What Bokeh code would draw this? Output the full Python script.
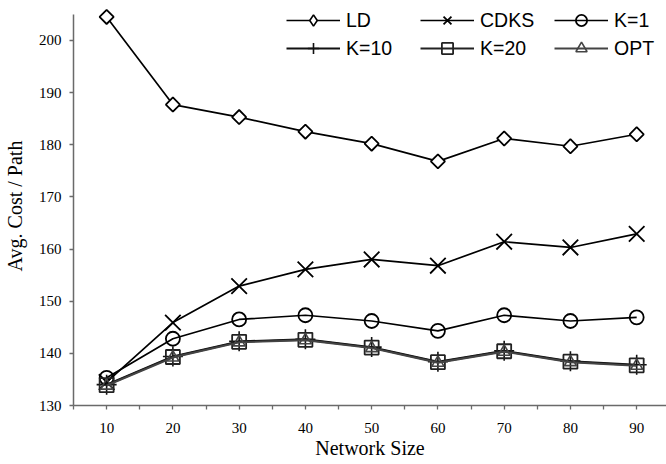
from bokeh.plotting import figure
from bokeh.models import FixedTicker, Legend, LegendItem, Range1d, ColumnDataSource
from bokeh.embed import file_html
from bokeh.resources import INLINE
import numpy as np

network_size = [10, 20, 30, 40, 50, 60, 70, 80, 90]
ld = [204.5, 187.7, 185.3, 182.5, 180.2, 176.8, 181.2, 179.7, 182.0]
cdks = [134.5, 145.9, 152.9, 156.1, 158.0, 156.8, 161.4, 160.3, 162.9]
k1 = [135.3, 142.8, 146.5, 147.3, 146.2, 144.3, 147.3, 146.2, 146.9]
k10 = [134.0, 139.4, 142.3, 142.7, 141.2, 138.4, 140.5, 138.5, 137.8]
k20 = [133.9, 139.3, 142.2, 142.6, 141.1, 138.3, 140.4, 138.4, 137.7]
opt = [133.8, 139.2, 142.1, 142.5, 141.0, 138.2, 140.3, 138.3, 137.6]

x_ticks = [10, 20, 30, 40, 50, 60, 70, 80, 90]
x_minor = [5, 15, 25, 35, 45, 55, 65, 75, 85, 95]
y_ticks = [130, 140, 150, 160, 170, 180, 190, 200]

p = figure(width=666, height=464, output_backend="svg", toolbar_location=None,
           x_range=Range1d(5, 94.5), y_range=Range1d(130, 206.5),
           min_border_left=72, min_border_right=0, min_border_top=6, min_border_bottom=59)
p.outline_line_color = None
p.grid.visible = False
p.background_fill_color = "white"
p.border_fill_color = "white"

axis_col = "#6a6a6a"
for ax in (p.xaxis[0], p.yaxis[0]):
    ax.axis_line_color = axis_col
    ax.axis_line_width = 1.5
    ax.major_tick_line_color = axis_col
    ax.minor_tick_line_color = axis_col
    ax.major_tick_line_width = 1.3
    ax.minor_tick_line_width = 1.3
    ax.major_tick_in = 0
    ax.major_tick_out = 4
    ax.minor_tick_in = 0
    ax.minor_tick_out = 4
    ax.major_label_text_font = "Liberation Serif"
    ax.major_label_text_font_size = "15px"
    ax.major_label_text_color = "black"
    ax.axis_label_text_font = "Liberation Serif"
    ax.axis_label_text_font_size = "20px"
    ax.axis_label_text_font_style = "normal"
    ax.axis_label_text_color = "black"

p.xaxis.ticker = FixedTicker(ticks=x_ticks, minor_ticks=x_minor)
p.yaxis.ticker = FixedTicker(ticks=y_ticks, minor_ticks=[])
p.yaxis.bounds = (130, 205)
p.xaxis.axis_label = "Network Size"
p.yaxis.axis_label = "Avg. Cost / Path"
p.xaxis.major_label_standoff = 13
p.yaxis.major_label_standoff = 8
p.xaxis.axis_label_standoff = 1
p.yaxis.axis_label_standoff = 10

src = ColumnDataSource(dict(x=network_size, ld=ld, cdks=cdks, k1=k1, k10=k10, k20=k20, opt=opt))

items = []

# LD
l = p.line("x", "ld", source=src, line_color="black", line_width=1.7)
s = p.scatter("x", "ld", source=src, marker="square", angle=np.pi / 4, size=10,
              fill_color="white", line_color="black", line_width=1.8)
# legend-only diamond glyph (hidden in the plot itself)
sl = p.scatter("x", "ld", source=src, marker="diamond", size=16,
               fill_color="white", line_color="black", line_width=1.6)
sl.visible = False
items.append(LegendItem(label="LD", renderers=[l, sl]))

# CDKS
l = p.line("x", "cdks", source=src, line_color="black", line_width=1.7)
s = p.scatter("x", "cdks", source=src, marker="x", size=22,
              line_color="black", line_width=1.8)
items.append(LegendItem(label="CDKS", renderers=[l, s]))

# K=1
l = p.line("x", "k1", source=src, line_color="black", line_width=1.7)
s = p.scatter("x", "k1", source=src, marker="circle", size=14,
              fill_color=None, line_color="black", line_width=1.8)
items.append(LegendItem(label="K=1", renderers=[l, s]))

# K=10
l = p.line("x", "k10", source=src, line_color="#111111", line_width=1.9)
s = p.scatter("x", "k10", source=src, marker="cross", size=20,
              line_color="#111111", line_width=1.6)
items.append(LegendItem(label="K=10", renderers=[l, s]))

# K=20
l = p.line("x", "k20", source=src, line_color="#222222", line_width=1.9)
s = p.scatter("x", "k20", source=src, marker="square", size=14,
              fill_color=None, line_color="#222222", line_width=1.8)
items.append(LegendItem(label="K=20", renderers=[l, s]))

# OPT
l = p.line("x", "opt", source=src, line_color="#444444", line_width=1.9)
s = p.scatter("x", "opt", source=src, marker="triangle", size=12,
              fill_color=None, line_color="#444444", line_width=1.6)
items.append(LegendItem(label="OPT", renderers=[l, s]))

legend = Legend(items=items, location=(213, 343), orientation="horizontal", ncols=3,
                glyph_width=54, glyph_height=28, label_height=28, label_width=74,
                label_standoff=6, spacing=0, padding=0, margin=0,
                border_line_alpha=0, background_fill_alpha=0,
                label_text_font="Liberation Sans", label_text_font_size="19.5px",
                label_text_color="black")
p.add_layout(legend)

open("out.html", "w").write(file_html(p, INLINE))
